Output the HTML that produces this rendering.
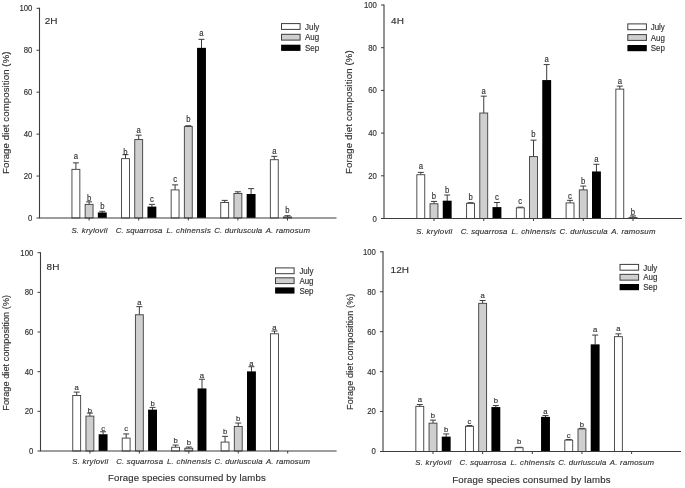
<!DOCTYPE html>
<html lang="en"><head><meta charset="utf-8"><title>Forage diet composition</title>
<style>html,body{margin:0;padding:0;background:#fff}body{width:685px;height:488px;overflow:hidden}svg{display:block;filter:blur(0.3px)}</style>
</head><body>
<svg width="685" height="488" viewBox="0 0 685 488" font-family="'Liberation Sans', Arial, sans-serif" fill="#303030">
<rect width="685" height="488" fill="#fff"/>
<g>
<path d="M75.90 169.35V162.85M72.90 162.85H78.90" stroke="#3c3c3c" stroke-width="1" fill="none"/>
<rect x="71.95" y="169.35" width="7.9" height="48.65" fill="#ffffff" stroke="#3c3c3c" stroke-width="0.9"/>
<text transform="translate(75.90 158.50) scale(0.930 1.000)" font-size="8.3" text-anchor="middle" stroke="#303030" stroke-width="0.15">a</text>
<path d="M89.10 204.37V201.85M86.10 201.85H92.10" stroke="#3c3c3c" stroke-width="1" fill="none"/>
<rect x="85.15" y="204.37" width="7.9" height="13.63" fill="#cfcfcf" stroke="#3c3c3c" stroke-width="0.9"/>
<text transform="translate(89.10 201.00) scale(0.930 1.000)" font-size="8.3" text-anchor="middle" stroke="#303030" stroke-width="0.15">b</text>
<path d="M102.30 212.76V211.29M99.30 211.29H105.30" stroke="#3c3c3c" stroke-width="1" fill="none"/>
<rect x="97.85" y="212.46" width="8.9" height="5.54" fill="#000"/>
<text transform="translate(102.30 208.50) scale(0.930 1.000)" font-size="8.3" text-anchor="middle" stroke="#303030" stroke-width="0.15">b</text>
<path d="M125.50 158.65V154.67M122.50 154.67H128.50" stroke="#3c3c3c" stroke-width="1" fill="none"/>
<rect x="121.55" y="158.65" width="7.9" height="59.35" fill="#ffffff" stroke="#3c3c3c" stroke-width="0.9"/>
<text transform="translate(125.50 154.60) scale(0.930 1.000)" font-size="8.3" text-anchor="middle" stroke="#303030" stroke-width="0.15">b</text>
<path d="M138.70 139.57V135.17M135.70 135.17H141.70" stroke="#3c3c3c" stroke-width="1" fill="none"/>
<rect x="134.75" y="139.57" width="7.9" height="78.43" fill="#cfcfcf" stroke="#3c3c3c" stroke-width="0.9"/>
<text transform="translate(138.70 132.80) scale(0.930 1.000)" font-size="8.3" text-anchor="middle" stroke="#303030" stroke-width="0.15">a</text>
<path d="M151.90 206.89V204.37M148.90 204.37H154.90" stroke="#3c3c3c" stroke-width="1" fill="none"/>
<rect x="147.45" y="206.59" width="8.9" height="11.41" fill="#000"/>
<text transform="translate(151.90 201.90) scale(0.930 1.000)" font-size="8.3" text-anchor="middle" stroke="#303030" stroke-width="0.15">c</text>
<path d="M175.10 189.90V184.87M172.10 184.87H178.10" stroke="#3c3c3c" stroke-width="1" fill="none"/>
<rect x="171.15" y="189.90" width="7.9" height="28.10" fill="#ffffff" stroke="#3c3c3c" stroke-width="0.9"/>
<text transform="translate(175.10 182.30) scale(0.930 1.000)" font-size="8.3" text-anchor="middle" stroke="#303030" stroke-width="0.15">c</text>
<path d="M188.30 126.57V125.73M185.30 125.73H191.30" stroke="#3c3c3c" stroke-width="1" fill="none"/>
<rect x="184.35" y="126.57" width="7.9" height="91.43" fill="#cfcfcf" stroke="#3c3c3c" stroke-width="0.9"/>
<text transform="translate(188.30 121.90) scale(0.930 1.000)" font-size="8.3" text-anchor="middle" stroke="#303030" stroke-width="0.15">b</text>
<path d="M201.50 48.14V39.34M198.50 39.34H204.50" stroke="#3c3c3c" stroke-width="1" fill="none"/>
<rect x="197.05" y="47.84" width="8.9" height="170.16" fill="#000"/>
<text transform="translate(201.50 35.90) scale(0.930 1.000)" font-size="8.3" text-anchor="middle" stroke="#303030" stroke-width="0.15">a</text>
<path d="M224.70 202.48V200.39M221.70 200.39H227.70" stroke="#3c3c3c" stroke-width="1" fill="none"/>
<rect x="220.75" y="202.48" width="7.9" height="15.52" fill="#ffffff" stroke="#3c3c3c" stroke-width="0.9"/>
<path d="M237.90 193.47V191.79M234.90 191.79H240.90" stroke="#3c3c3c" stroke-width="1" fill="none"/>
<rect x="233.95" y="193.47" width="7.9" height="24.53" fill="#cfcfcf" stroke="#3c3c3c" stroke-width="0.9"/>
<path d="M251.10 194.30V188.64M248.10 188.64H254.10" stroke="#3c3c3c" stroke-width="1" fill="none"/>
<rect x="246.65" y="194.00" width="8.9" height="24.00" fill="#000"/>
<path d="M274.30 159.70V156.35M271.30 156.35H277.30" stroke="#3c3c3c" stroke-width="1" fill="none"/>
<rect x="270.35" y="159.70" width="7.9" height="58.30" fill="#ffffff" stroke="#3c3c3c" stroke-width="0.9"/>
<text transform="translate(274.30 153.70) scale(0.930 1.000)" font-size="8.3" text-anchor="middle" stroke="#303030" stroke-width="0.15">a</text>
<path d="M287.50 216.95V215.69M284.50 215.69H290.50" stroke="#3c3c3c" stroke-width="1" fill="none"/>
<rect x="283.55" y="216.95" width="7.9" height="1.05" fill="#cfcfcf" stroke="#3c3c3c" stroke-width="0.9"/>
<text transform="translate(287.50 213.00) scale(0.930 1.000)" font-size="8.3" text-anchor="middle" stroke="#303030" stroke-width="0.15">b</text>
<path d="M39.5 7.80V218.0H336.5" stroke="#3c3c3c" stroke-width="1.1" fill="none"/>
<path d="M36.50 218.00H39.5" stroke="#3c3c3c" stroke-width="1"/>
<text transform="translate(32.35 221.05) scale(0.905 1.000)" font-size="8.6" text-anchor="end" stroke="#303030" stroke-width="0.15">0</text>
<path d="M36.50 176.06H39.5" stroke="#3c3c3c" stroke-width="1"/>
<text transform="translate(32.35 179.11) scale(0.905 1.000)" font-size="8.6" text-anchor="end" stroke="#303030" stroke-width="0.15">20</text>
<path d="M36.50 134.12H39.5" stroke="#3c3c3c" stroke-width="1"/>
<text transform="translate(32.35 137.17) scale(0.905 1.000)" font-size="8.6" text-anchor="end" stroke="#303030" stroke-width="0.15">40</text>
<path d="M36.50 92.18H39.5" stroke="#3c3c3c" stroke-width="1"/>
<text transform="translate(32.35 95.23) scale(0.905 1.000)" font-size="8.6" text-anchor="end" stroke="#303030" stroke-width="0.15">60</text>
<path d="M36.50 50.24H39.5" stroke="#3c3c3c" stroke-width="1"/>
<text transform="translate(32.35 53.29) scale(0.905 1.000)" font-size="8.6" text-anchor="end" stroke="#303030" stroke-width="0.15">80</text>
<path d="M36.50 8.30H39.5" stroke="#3c3c3c" stroke-width="1"/>
<text transform="translate(32.35 11.35) scale(0.905 1.000)" font-size="8.6" text-anchor="end" stroke="#303030" stroke-width="0.15">100</text>
<path d="M89.10 218.0V220.50" stroke="#3c3c3c" stroke-width="1"/>
<text transform="translate(71.40 233.10)" font-size="7.8" font-style="italic" textLength="36.0" lengthAdjust="spacing" stroke="#303030" stroke-width="0.15">S. krylovii</text>
<path d="M138.70 218.0V220.50" stroke="#3c3c3c" stroke-width="1"/>
<text transform="translate(115.65 233.10)" font-size="7.8" font-style="italic" textLength="46.7" lengthAdjust="spacing" stroke="#303030" stroke-width="0.15">C. squarrosa</text>
<path d="M188.30 218.0V220.50" stroke="#3c3c3c" stroke-width="1"/>
<text transform="translate(166.40 233.10)" font-size="7.8" font-style="italic" textLength="44.4" lengthAdjust="spacing" stroke="#303030" stroke-width="0.15">L. chinensis</text>
<path d="M237.90 218.0V220.50" stroke="#3c3c3c" stroke-width="1"/>
<text transform="translate(214.20 233.10)" font-size="7.8" font-style="italic" textLength="48.0" lengthAdjust="spacing" stroke="#303030" stroke-width="0.15">C. duriuscula</text>
<path d="M287.50 218.0V220.50" stroke="#3c3c3c" stroke-width="1"/>
<text transform="translate(265.70 233.10)" font-size="7.8" font-style="italic" textLength="44.2" lengthAdjust="spacing" stroke="#303030" stroke-width="0.15">A. ramosum</text>
<rect x="281.50" y="23.60" width="18.6" height="5.8" fill="#ffffff" stroke="#3c3c3c" stroke-width="1"/>
<text transform="translate(305.00 29.70) scale(0.925 1.000)" font-size="8.6" stroke="#303030" stroke-width="0.15">July</text>
<rect x="281.50" y="34.30" width="18.6" height="5.8" fill="#cfcfcf" stroke="#3c3c3c" stroke-width="1"/>
<text transform="translate(305.00 40.40) scale(0.925 1.000)" font-size="8.6" stroke="#303030" stroke-width="0.15">Aug</text>
<rect x="281.10" y="44.70" width="19.4" height="6.2" fill="#000"/>
<text transform="translate(305.00 51.10) scale(0.925 1.000)" font-size="8.6" stroke="#303030" stroke-width="0.15">Sep</text>
<text transform="translate(44.80 23.90) scale(1.030 1.000)" font-size="9.7" stroke="#303030" stroke-width="0.15">2H</text>
<text transform="translate(9.30 174.00) rotate(-90)" font-size="9.6" textLength="122.5" lengthAdjust="spacing" stroke="#303030" stroke-width="0.15">Forage diet composition (%)</text>
</g>
<g>
<path d="M420.80 174.73V172.38M417.80 172.38H423.80" stroke="#3c3c3c" stroke-width="1" fill="none"/>
<rect x="416.85" y="174.73" width="7.9" height="43.77" fill="#ffffff" stroke="#3c3c3c" stroke-width="0.9"/>
<text transform="translate(420.80 169.20) scale(0.930 1.000)" font-size="8.3" text-anchor="middle" stroke="#303030" stroke-width="0.15">a</text>
<path d="M434.00 203.77V201.42M431.00 201.42H437.00" stroke="#3c3c3c" stroke-width="1" fill="none"/>
<rect x="430.05" y="203.77" width="7.9" height="14.73" fill="#cfcfcf" stroke="#3c3c3c" stroke-width="0.9"/>
<text transform="translate(434.00 199.40) scale(0.930 1.000)" font-size="8.3" text-anchor="middle" stroke="#303030" stroke-width="0.15">b</text>
<path d="M447.20 200.99V195.01M444.20 195.01H450.20" stroke="#3c3c3c" stroke-width="1" fill="none"/>
<rect x="442.75" y="200.69" width="8.9" height="17.81" fill="#000"/>
<text transform="translate(447.20 192.60) scale(0.930 1.000)" font-size="8.3" text-anchor="middle" stroke="#303030" stroke-width="0.15">b</text>
<path d="M470.55 203.34V202.70M467.55 202.70H473.55" stroke="#3c3c3c" stroke-width="1" fill="none"/>
<rect x="466.60" y="203.34" width="7.9" height="15.16" fill="#ffffff" stroke="#3c3c3c" stroke-width="0.9"/>
<text transform="translate(470.55 200.10) scale(0.930 1.000)" font-size="8.3" text-anchor="middle" stroke="#303030" stroke-width="0.15">b</text>
<path d="M483.75 113.03V96.16M480.75 96.16H486.75" stroke="#3c3c3c" stroke-width="1" fill="none"/>
<rect x="479.80" y="113.03" width="7.9" height="105.47" fill="#cfcfcf" stroke="#3c3c3c" stroke-width="0.9"/>
<text transform="translate(483.75 93.50) scale(0.930 1.000)" font-size="8.3" text-anchor="middle" stroke="#303030" stroke-width="0.15">a</text>
<path d="M496.95 207.40V202.49M493.95 202.49H499.95" stroke="#3c3c3c" stroke-width="1" fill="none"/>
<rect x="492.50" y="207.10" width="8.9" height="11.40" fill="#000"/>
<text transform="translate(496.95 199.90) scale(0.930 1.000)" font-size="8.3" text-anchor="middle" stroke="#303030" stroke-width="0.15">c</text>
<path d="M520.30 207.82V207.18M517.30 207.18H523.30" stroke="#3c3c3c" stroke-width="1" fill="none"/>
<rect x="516.35" y="207.82" width="7.9" height="10.68" fill="#ffffff" stroke="#3c3c3c" stroke-width="0.9"/>
<text transform="translate(520.30 204.40) scale(0.930 1.000)" font-size="8.3" text-anchor="middle" stroke="#303030" stroke-width="0.15">c</text>
<path d="M533.50 156.59V140.15M530.50 140.15H536.50" stroke="#3c3c3c" stroke-width="1" fill="none"/>
<rect x="529.55" y="156.59" width="7.9" height="61.91" fill="#cfcfcf" stroke="#3c3c3c" stroke-width="0.9"/>
<text transform="translate(533.50 136.60) scale(0.930 1.000)" font-size="8.3" text-anchor="middle" stroke="#303030" stroke-width="0.15">b</text>
<path d="M546.70 80.37V64.57M543.70 64.57H549.70" stroke="#3c3c3c" stroke-width="1" fill="none"/>
<rect x="542.25" y="80.07" width="8.9" height="138.43" fill="#000"/>
<text transform="translate(546.70 62.00) scale(0.930 1.000)" font-size="8.3" text-anchor="middle" stroke="#303030" stroke-width="0.15">a</text>
<path d="M570.05 202.91V200.35M567.05 200.35H573.05" stroke="#3c3c3c" stroke-width="1" fill="none"/>
<rect x="566.10" y="202.91" width="7.9" height="15.59" fill="#ffffff" stroke="#3c3c3c" stroke-width="0.9"/>
<text transform="translate(570.05 198.60) scale(0.930 1.000)" font-size="8.3" text-anchor="middle" stroke="#303030" stroke-width="0.15">c</text>
<path d="M583.25 189.89V186.05M580.25 186.05H586.25" stroke="#3c3c3c" stroke-width="1" fill="none"/>
<rect x="579.30" y="189.89" width="7.9" height="28.61" fill="#cfcfcf" stroke="#3c3c3c" stroke-width="0.9"/>
<text transform="translate(583.25 184.30) scale(0.930 1.000)" font-size="8.3" text-anchor="middle" stroke="#303030" stroke-width="0.15">b</text>
<path d="M596.45 171.74V164.27M593.45 164.27H599.45" stroke="#3c3c3c" stroke-width="1" fill="none"/>
<rect x="592.00" y="171.44" width="8.9" height="47.06" fill="#000"/>
<text transform="translate(596.45 162.20) scale(0.930 1.000)" font-size="8.3" text-anchor="middle" stroke="#303030" stroke-width="0.15">a</text>
<path d="M619.80 89.12V86.13M616.80 86.13H622.80" stroke="#3c3c3c" stroke-width="1" fill="none"/>
<rect x="615.85" y="89.12" width="7.9" height="129.38" fill="#ffffff" stroke="#3c3c3c" stroke-width="0.9"/>
<text transform="translate(619.80 84.20) scale(0.930 1.000)" font-size="8.3" text-anchor="middle" stroke="#303030" stroke-width="0.15">a</text>
<path d="M633.00 217.43V215.94M630.00 215.94H636.00" stroke="#3c3c3c" stroke-width="1" fill="none"/>
<rect x="629.05" y="217.43" width="7.9" height="1.07" fill="#cfcfcf" stroke="#3c3c3c" stroke-width="0.9"/>
<text transform="translate(633.00 214.50) scale(0.930 1.000)" font-size="8.3" text-anchor="middle" stroke="#303030" stroke-width="0.15">b</text>
<path d="M384 4.50V218.5H682" stroke="#3c3c3c" stroke-width="1.1" fill="none"/>
<path d="M381.00 218.50H384" stroke="#3c3c3c" stroke-width="1"/>
<text transform="translate(376.85 221.55) scale(0.905 1.000)" font-size="8.6" text-anchor="end" stroke="#303030" stroke-width="0.15">0</text>
<path d="M381.00 175.80H384" stroke="#3c3c3c" stroke-width="1"/>
<text transform="translate(376.85 178.85) scale(0.905 1.000)" font-size="8.6" text-anchor="end" stroke="#303030" stroke-width="0.15">20</text>
<path d="M381.00 133.10H384" stroke="#3c3c3c" stroke-width="1"/>
<text transform="translate(376.85 136.15) scale(0.905 1.000)" font-size="8.6" text-anchor="end" stroke="#303030" stroke-width="0.15">40</text>
<path d="M381.00 90.40H384" stroke="#3c3c3c" stroke-width="1"/>
<text transform="translate(376.85 93.45) scale(0.905 1.000)" font-size="8.6" text-anchor="end" stroke="#303030" stroke-width="0.15">60</text>
<path d="M381.00 47.70H384" stroke="#3c3c3c" stroke-width="1"/>
<text transform="translate(376.85 50.75) scale(0.905 1.000)" font-size="8.6" text-anchor="end" stroke="#303030" stroke-width="0.15">80</text>
<path d="M381.00 5.00H384" stroke="#3c3c3c" stroke-width="1"/>
<text transform="translate(376.85 8.05) scale(0.905 1.000)" font-size="8.6" text-anchor="end" stroke="#303030" stroke-width="0.15">100</text>
<path d="M434.00 218.5V221.00" stroke="#3c3c3c" stroke-width="1"/>
<text transform="translate(416.30 233.70)" font-size="7.8" font-style="italic" textLength="36.0" lengthAdjust="spacing" stroke="#303030" stroke-width="0.15">S. krylovii</text>
<path d="M483.75 218.5V221.00" stroke="#3c3c3c" stroke-width="1"/>
<text transform="translate(460.70 233.70)" font-size="7.8" font-style="italic" textLength="46.7" lengthAdjust="spacing" stroke="#303030" stroke-width="0.15">C. squarrosa</text>
<path d="M533.50 218.5V221.00" stroke="#3c3c3c" stroke-width="1"/>
<text transform="translate(511.60 233.70)" font-size="7.8" font-style="italic" textLength="44.4" lengthAdjust="spacing" stroke="#303030" stroke-width="0.15">L. chinensis</text>
<path d="M583.25 218.5V221.00" stroke="#3c3c3c" stroke-width="1"/>
<text transform="translate(559.55 233.70)" font-size="7.8" font-style="italic" textLength="48.0" lengthAdjust="spacing" stroke="#303030" stroke-width="0.15">C. duriuscula</text>
<path d="M633.00 218.5V221.00" stroke="#3c3c3c" stroke-width="1"/>
<text transform="translate(611.20 233.70)" font-size="7.8" font-style="italic" textLength="44.2" lengthAdjust="spacing" stroke="#303030" stroke-width="0.15">A. ramosum</text>
<rect x="627.80" y="23.90" width="18.6" height="5.8" fill="#ffffff" stroke="#3c3c3c" stroke-width="1"/>
<text transform="translate(650.70 30.00) scale(0.925 1.000)" font-size="8.6" stroke="#303030" stroke-width="0.15">July</text>
<rect x="627.80" y="34.60" width="18.6" height="5.8" fill="#cfcfcf" stroke="#3c3c3c" stroke-width="1"/>
<text transform="translate(650.70 40.70) scale(0.925 1.000)" font-size="8.6" stroke="#303030" stroke-width="0.15">Aug</text>
<rect x="627.40" y="45.00" width="19.4" height="6.2" fill="#000"/>
<text transform="translate(650.70 51.40) scale(0.925 1.000)" font-size="8.6" stroke="#303030" stroke-width="0.15">Sep</text>
<text transform="translate(391.10 23.50) scale(1.030 1.000)" font-size="9.7" stroke="#303030" stroke-width="0.15">4H</text>
<text transform="translate(352.30 174.00) rotate(-90)" font-size="9.6" textLength="123.7" lengthAdjust="spacing" stroke="#303030" stroke-width="0.15">Forage diet composition (%)</text>
</g>
<g>
<path d="M76.70 395.48V392.10M73.70 392.10H79.70" stroke="#3c3c3c" stroke-width="1" fill="none"/>
<rect x="72.75" y="395.48" width="7.9" height="55.52" fill="#ffffff" stroke="#3c3c3c" stroke-width="0.9"/>
<text transform="translate(76.70 389.90) scale(0.930 0.946)" font-size="8.3" text-anchor="middle" stroke="#303030" stroke-width="0.15">a</text>
<path d="M89.90 416.10V413.12M86.90 413.12H92.90" stroke="#3c3c3c" stroke-width="1" fill="none"/>
<rect x="85.95" y="416.10" width="7.9" height="34.90" fill="#cfcfcf" stroke="#3c3c3c" stroke-width="0.9"/>
<text transform="translate(89.90 412.50) scale(0.930 0.946)" font-size="8.3" text-anchor="middle" stroke="#303030" stroke-width="0.15">b</text>
<path d="M103.10 434.54V431.76M100.10 431.76H106.10" stroke="#3c3c3c" stroke-width="1" fill="none"/>
<rect x="98.65" y="434.24" width="8.9" height="16.76" fill="#000"/>
<text transform="translate(103.10 430.80) scale(0.930 0.946)" font-size="8.3" text-anchor="middle" stroke="#303030" stroke-width="0.15">c</text>
<path d="M126.15 438.11V433.95M123.15 433.95H129.15" stroke="#3c3c3c" stroke-width="1" fill="none"/>
<rect x="122.20" y="438.11" width="7.9" height="12.89" fill="#ffffff" stroke="#3c3c3c" stroke-width="0.9"/>
<text transform="translate(126.15 430.80) scale(0.930 0.946)" font-size="8.3" text-anchor="middle" stroke="#303030" stroke-width="0.15">c</text>
<path d="M139.35 314.77V306.64M136.35 306.64H142.35" stroke="#3c3c3c" stroke-width="1" fill="none"/>
<rect x="135.40" y="314.77" width="7.9" height="136.23" fill="#cfcfcf" stroke="#3c3c3c" stroke-width="0.9"/>
<text transform="translate(139.35 305.00) scale(0.930 0.946)" font-size="8.3" text-anchor="middle" stroke="#303030" stroke-width="0.15">a</text>
<path d="M152.55 409.95V407.37M149.55 407.37H155.55" stroke="#3c3c3c" stroke-width="1" fill="none"/>
<rect x="148.10" y="409.65" width="8.9" height="41.35" fill="#000"/>
<text transform="translate(152.55 406.20) scale(0.930 0.946)" font-size="8.3" text-anchor="middle" stroke="#303030" stroke-width="0.15">b</text>
<path d="M175.60 447.23V445.05M172.60 445.05H178.60" stroke="#3c3c3c" stroke-width="1" fill="none"/>
<rect x="171.65" y="447.23" width="7.9" height="3.77" fill="#ffffff" stroke="#3c3c3c" stroke-width="0.9"/>
<text transform="translate(175.60 443.40) scale(0.930 0.946)" font-size="8.3" text-anchor="middle" stroke="#303030" stroke-width="0.15">b</text>
<path d="M188.80 448.22V447.03M185.80 447.03H191.80" stroke="#3c3c3c" stroke-width="1" fill="none"/>
<rect x="184.85" y="448.22" width="7.9" height="2.78" fill="#cfcfcf" stroke="#3c3c3c" stroke-width="0.9"/>
<text transform="translate(188.80 445.40) scale(0.930 0.946)" font-size="8.3" text-anchor="middle" stroke="#303030" stroke-width="0.15">b</text>
<path d="M202.00 388.73V379.22M199.00 379.22H205.00" stroke="#3c3c3c" stroke-width="1" fill="none"/>
<rect x="197.55" y="388.43" width="8.9" height="62.57" fill="#000"/>
<text transform="translate(202.00 377.60) scale(0.930 0.946)" font-size="8.3" text-anchor="middle" stroke="#303030" stroke-width="0.15">a</text>
<path d="M225.05 442.08V436.33M222.05 436.33H228.05" stroke="#3c3c3c" stroke-width="1" fill="none"/>
<rect x="221.10" y="442.08" width="7.9" height="8.92" fill="#ffffff" stroke="#3c3c3c" stroke-width="0.9"/>
<text transform="translate(225.05 434.30) scale(0.930 0.946)" font-size="8.3" text-anchor="middle" stroke="#303030" stroke-width="0.15">b</text>
<path d="M238.25 426.41V423.04M235.25 423.04H241.25" stroke="#3c3c3c" stroke-width="1" fill="none"/>
<rect x="234.30" y="426.41" width="7.9" height="24.59" fill="#cfcfcf" stroke="#3c3c3c" stroke-width="0.9"/>
<text transform="translate(238.25 420.80) scale(0.930 0.946)" font-size="8.3" text-anchor="middle" stroke="#303030" stroke-width="0.15">b</text>
<path d="M251.45 371.68V366.72M248.45 366.72H254.45" stroke="#3c3c3c" stroke-width="1" fill="none"/>
<rect x="247.00" y="371.38" width="8.9" height="79.62" fill="#000"/>
<text transform="translate(251.45 365.90) scale(0.930 0.946)" font-size="8.3" text-anchor="middle" stroke="#303030" stroke-width="0.15">a</text>
<path d="M274.50 333.80V331.03M271.50 331.03H277.50" stroke="#3c3c3c" stroke-width="1" fill="none"/>
<rect x="270.55" y="333.80" width="7.9" height="117.20" fill="#ffffff" stroke="#3c3c3c" stroke-width="0.9"/>
<text transform="translate(274.50 329.70) scale(0.930 0.946)" font-size="8.3" text-anchor="middle" stroke="#303030" stroke-width="0.15">a</text>
<path d="M40.5 252.20V451.0H336.6" stroke="#3c3c3c" stroke-width="1.1" fill="none"/>
<path d="M37.50 451.00H40.5" stroke="#3c3c3c" stroke-width="1"/>
<text transform="translate(33.35 453.88) scale(0.905 0.946)" font-size="8.6" text-anchor="end" stroke="#303030" stroke-width="0.15">0</text>
<path d="M37.50 411.34H40.5" stroke="#3c3c3c" stroke-width="1"/>
<text transform="translate(33.35 414.22) scale(0.905 0.946)" font-size="8.6" text-anchor="end" stroke="#303030" stroke-width="0.15">20</text>
<path d="M37.50 371.68H40.5" stroke="#3c3c3c" stroke-width="1"/>
<text transform="translate(33.35 374.56) scale(0.905 0.946)" font-size="8.6" text-anchor="end" stroke="#303030" stroke-width="0.15">40</text>
<path d="M37.50 332.02H40.5" stroke="#3c3c3c" stroke-width="1"/>
<text transform="translate(33.35 334.90) scale(0.905 0.946)" font-size="8.6" text-anchor="end" stroke="#303030" stroke-width="0.15">60</text>
<path d="M37.50 292.36H40.5" stroke="#3c3c3c" stroke-width="1"/>
<text transform="translate(33.35 295.24) scale(0.905 0.946)" font-size="8.6" text-anchor="end" stroke="#303030" stroke-width="0.15">80</text>
<path d="M37.50 252.70H40.5" stroke="#3c3c3c" stroke-width="1"/>
<text transform="translate(33.35 255.58) scale(0.905 0.946)" font-size="8.6" text-anchor="end" stroke="#303030" stroke-width="0.15">100</text>
<path d="M89.90 451.0V453.50" stroke="#3c3c3c" stroke-width="1"/>
<text transform="translate(72.20 464.30) scale(1.000 0.946)" font-size="7.8" font-style="italic" textLength="36.0" lengthAdjust="spacing" stroke="#303030" stroke-width="0.15">S. krylovii</text>
<path d="M139.35 451.0V453.50" stroke="#3c3c3c" stroke-width="1"/>
<text transform="translate(116.30 464.30) scale(1.000 0.946)" font-size="7.8" font-style="italic" textLength="46.7" lengthAdjust="spacing" stroke="#303030" stroke-width="0.15">C. squarrosa</text>
<path d="M188.80 451.0V453.50" stroke="#3c3c3c" stroke-width="1"/>
<text transform="translate(166.90 464.30) scale(1.000 0.946)" font-size="7.8" font-style="italic" textLength="44.4" lengthAdjust="spacing" stroke="#303030" stroke-width="0.15">L. chinensis</text>
<path d="M238.25 451.0V453.50" stroke="#3c3c3c" stroke-width="1"/>
<text transform="translate(214.55 464.30) scale(1.000 0.946)" font-size="7.8" font-style="italic" textLength="48.0" lengthAdjust="spacing" stroke="#303030" stroke-width="0.15">C. duriuscula</text>
<path d="M287.70 451.0V453.50" stroke="#3c3c3c" stroke-width="1"/>
<text transform="translate(265.90 464.30) scale(1.000 0.946)" font-size="7.8" font-style="italic" textLength="44.2" lengthAdjust="spacing" stroke="#303030" stroke-width="0.15">A. ramosum</text>
<rect x="275.50" y="267.90" width="18.6" height="5.8" fill="#ffffff" stroke="#3c3c3c" stroke-width="1"/>
<text transform="translate(299.40 274.00) scale(0.925 0.946)" font-size="8.6" stroke="#303030" stroke-width="0.15">July</text>
<rect x="275.50" y="277.80" width="18.6" height="5.8" fill="#cfcfcf" stroke="#3c3c3c" stroke-width="1"/>
<text transform="translate(299.40 283.90) scale(0.925 0.946)" font-size="8.6" stroke="#303030" stroke-width="0.15">Aug</text>
<rect x="275.10" y="287.40" width="19.4" height="6.2" fill="#000"/>
<text transform="translate(299.40 293.80) scale(0.925 0.946)" font-size="8.6" stroke="#303030" stroke-width="0.15">Sep</text>
<text transform="translate(46.60 270.00) scale(1.030 1.000)" font-size="9.7" stroke="#303030" stroke-width="0.15">8H</text>
<text transform="translate(9.30 410.70) rotate(-90) scale(0.946 1)" font-size="9.6" textLength="122.4" lengthAdjust="spacing" stroke="#303030" stroke-width="0.15">Forage diet composition (%)</text>
<text transform="translate(108.00 481.30) scale(1.000 0.946)" font-size="9.6" textLength="157.7" lengthAdjust="spacing" stroke="#303030" stroke-width="0.15">Forage species consumed by lambs</text>
</g>
<g>
<path d="M419.80 406.37V404.57M416.80 404.57H422.80" stroke="#3c3c3c" stroke-width="1" fill="none"/>
<rect x="415.85" y="406.37" width="7.9" height="45.13" fill="#ffffff" stroke="#3c3c3c" stroke-width="0.9"/>
<text transform="translate(419.80 401.70) scale(0.930 0.952)" font-size="8.3" text-anchor="middle" stroke="#303030" stroke-width="0.15">a</text>
<path d="M433.00 423.14V420.15M430.00 420.15H436.00" stroke="#3c3c3c" stroke-width="1" fill="none"/>
<rect x="429.05" y="423.14" width="7.9" height="28.36" fill="#cfcfcf" stroke="#3c3c3c" stroke-width="0.9"/>
<text transform="translate(433.00 418.30) scale(0.930 0.952)" font-size="8.3" text-anchor="middle" stroke="#303030" stroke-width="0.15">b</text>
<path d="M446.20 436.92V433.93M443.20 433.93H449.20" stroke="#3c3c3c" stroke-width="1" fill="none"/>
<rect x="441.75" y="436.62" width="8.9" height="14.88" fill="#000"/>
<text transform="translate(446.20 431.80) scale(0.930 0.952)" font-size="8.3" text-anchor="middle" stroke="#303030" stroke-width="0.15">b</text>
<path d="M469.45 426.34V425.54M466.45 425.54H472.45" stroke="#3c3c3c" stroke-width="1" fill="none"/>
<rect x="465.50" y="426.34" width="7.9" height="25.16" fill="#ffffff" stroke="#3c3c3c" stroke-width="0.9"/>
<text transform="translate(469.45 423.80) scale(0.930 0.952)" font-size="8.3" text-anchor="middle" stroke="#303030" stroke-width="0.15">c</text>
<path d="M482.65 303.32V300.53M479.65 300.53H485.65" stroke="#3c3c3c" stroke-width="1" fill="none"/>
<rect x="478.70" y="303.32" width="7.9" height="148.18" fill="#cfcfcf" stroke="#3c3c3c" stroke-width="0.9"/>
<text transform="translate(482.65 297.80) scale(0.930 0.952)" font-size="8.3" text-anchor="middle" stroke="#303030" stroke-width="0.15">a</text>
<path d="M495.85 407.37V405.57M492.85 405.57H498.85" stroke="#3c3c3c" stroke-width="1" fill="none"/>
<rect x="491.40" y="407.07" width="8.9" height="44.43" fill="#000"/>
<text transform="translate(495.85 403.20) scale(0.930 0.952)" font-size="8.3" text-anchor="middle" stroke="#303030" stroke-width="0.15">b</text>
<path d="M519.10 447.71V447.31M516.10 447.31H522.10" stroke="#3c3c3c" stroke-width="1" fill="none"/>
<rect x="515.15" y="447.71" width="7.9" height="3.79" fill="#ffffff" stroke="#3c3c3c" stroke-width="0.9"/>
<text transform="translate(519.10 444.40) scale(0.930 0.952)" font-size="8.3" text-anchor="middle" stroke="#303030" stroke-width="0.15">b</text>
<path d="M545.50 417.15V415.55M542.50 415.55H548.50" stroke="#3c3c3c" stroke-width="1" fill="none"/>
<rect x="541.05" y="416.85" width="8.9" height="34.65" fill="#000"/>
<text transform="translate(545.50 413.50) scale(0.930 0.952)" font-size="8.3" text-anchor="middle" stroke="#303030" stroke-width="0.15">a</text>
<path d="M568.75 440.12V439.52M565.75 439.52H571.75" stroke="#3c3c3c" stroke-width="1" fill="none"/>
<rect x="564.80" y="440.12" width="7.9" height="11.38" fill="#ffffff" stroke="#3c3c3c" stroke-width="0.9"/>
<text transform="translate(568.75 437.60) scale(0.930 0.952)" font-size="8.3" text-anchor="middle" stroke="#303030" stroke-width="0.15">c</text>
<path d="M581.95 428.93V428.33M578.95 428.33H584.95" stroke="#3c3c3c" stroke-width="1" fill="none"/>
<rect x="578.00" y="428.93" width="7.9" height="22.57" fill="#cfcfcf" stroke="#3c3c3c" stroke-width="0.9"/>
<text transform="translate(581.95 426.80) scale(0.930 0.952)" font-size="8.3" text-anchor="middle" stroke="#303030" stroke-width="0.15">b</text>
<path d="M595.15 344.66V335.07M592.15 335.07H598.15" stroke="#3c3c3c" stroke-width="1" fill="none"/>
<rect x="590.70" y="344.36" width="8.9" height="107.14" fill="#000"/>
<text transform="translate(595.15 331.90) scale(0.930 0.952)" font-size="8.3" text-anchor="middle" stroke="#303030" stroke-width="0.15">a</text>
<path d="M618.40 336.67V333.88M615.40 333.88H621.40" stroke="#3c3c3c" stroke-width="1" fill="none"/>
<rect x="614.45" y="336.67" width="7.9" height="114.83" fill="#ffffff" stroke="#3c3c3c" stroke-width="0.9"/>
<text transform="translate(618.40 330.90) scale(0.930 0.952)" font-size="8.3" text-anchor="middle" stroke="#303030" stroke-width="0.15">a</text>
<path d="M383 251.30V451.5H681" stroke="#3c3c3c" stroke-width="1.1" fill="none"/>
<path d="M380.00 451.50H383" stroke="#3c3c3c" stroke-width="1"/>
<text transform="translate(375.85 454.40) scale(0.905 0.952)" font-size="8.6" text-anchor="end" stroke="#303030" stroke-width="0.15">0</text>
<path d="M380.00 411.56H383" stroke="#3c3c3c" stroke-width="1"/>
<text transform="translate(375.85 414.46) scale(0.905 0.952)" font-size="8.6" text-anchor="end" stroke="#303030" stroke-width="0.15">20</text>
<path d="M380.00 371.62H383" stroke="#3c3c3c" stroke-width="1"/>
<text transform="translate(375.85 374.52) scale(0.905 0.952)" font-size="8.6" text-anchor="end" stroke="#303030" stroke-width="0.15">40</text>
<path d="M380.00 331.68H383" stroke="#3c3c3c" stroke-width="1"/>
<text transform="translate(375.85 334.58) scale(0.905 0.952)" font-size="8.6" text-anchor="end" stroke="#303030" stroke-width="0.15">60</text>
<path d="M380.00 291.74H383" stroke="#3c3c3c" stroke-width="1"/>
<text transform="translate(375.85 294.64) scale(0.905 0.952)" font-size="8.6" text-anchor="end" stroke="#303030" stroke-width="0.15">80</text>
<path d="M380.00 251.80H383" stroke="#3c3c3c" stroke-width="1"/>
<text transform="translate(375.85 254.70) scale(0.905 0.952)" font-size="8.6" text-anchor="end" stroke="#303030" stroke-width="0.15">100</text>
<path d="M433.00 451.5V454.00" stroke="#3c3c3c" stroke-width="1"/>
<text transform="translate(415.30 464.90) scale(1.000 0.952)" font-size="7.8" font-style="italic" textLength="36.0" lengthAdjust="spacing" stroke="#303030" stroke-width="0.15">S. krylovii</text>
<path d="M482.65 451.5V454.00" stroke="#3c3c3c" stroke-width="1"/>
<text transform="translate(459.60 464.90) scale(1.000 0.952)" font-size="7.8" font-style="italic" textLength="46.7" lengthAdjust="spacing" stroke="#303030" stroke-width="0.15">C. squarrosa</text>
<path d="M532.30 451.5V454.00" stroke="#3c3c3c" stroke-width="1"/>
<text transform="translate(510.40 464.90) scale(1.000 0.952)" font-size="7.8" font-style="italic" textLength="44.4" lengthAdjust="spacing" stroke="#303030" stroke-width="0.15">L. chinensis</text>
<path d="M581.95 451.5V454.00" stroke="#3c3c3c" stroke-width="1"/>
<text transform="translate(558.25 464.90) scale(1.000 0.952)" font-size="7.8" font-style="italic" textLength="48.0" lengthAdjust="spacing" stroke="#303030" stroke-width="0.15">C. duriuscula</text>
<path d="M631.60 451.5V454.00" stroke="#3c3c3c" stroke-width="1"/>
<text transform="translate(609.80 464.90) scale(1.000 0.952)" font-size="7.8" font-style="italic" textLength="44.2" lengthAdjust="spacing" stroke="#303030" stroke-width="0.15">A. ramosum</text>
<rect x="620.00" y="264.40" width="18.6" height="5.8" fill="#ffffff" stroke="#3c3c3c" stroke-width="1"/>
<text transform="translate(643.20 270.50) scale(0.925 0.952)" font-size="8.6" stroke="#303030" stroke-width="0.15">July</text>
<rect x="620.00" y="274.35" width="18.6" height="5.8" fill="#cfcfcf" stroke="#3c3c3c" stroke-width="1"/>
<text transform="translate(643.20 280.45) scale(0.925 0.952)" font-size="8.6" stroke="#303030" stroke-width="0.15">Aug</text>
<rect x="619.60" y="284.00" width="19.4" height="6.2" fill="#000"/>
<text transform="translate(643.20 290.40) scale(0.925 0.952)" font-size="8.6" stroke="#303030" stroke-width="0.15">Sep</text>
<text transform="translate(390.60 272.50) scale(1.030 1.000)" font-size="9.7" stroke="#303030" stroke-width="0.15">12H</text>
<text transform="translate(353.00 410.00) rotate(-90) scale(0.952 1)" font-size="9.6" textLength="122.3" lengthAdjust="spacing" stroke="#303030" stroke-width="0.15">Forage diet composition (%)</text>
<text transform="translate(452.30 482.80) scale(1.000 0.952)" font-size="9.6" textLength="158.2" lengthAdjust="spacing" stroke="#303030" stroke-width="0.15">Forage species consumed by lambs</text>
</g>
</svg>
</body></html>
